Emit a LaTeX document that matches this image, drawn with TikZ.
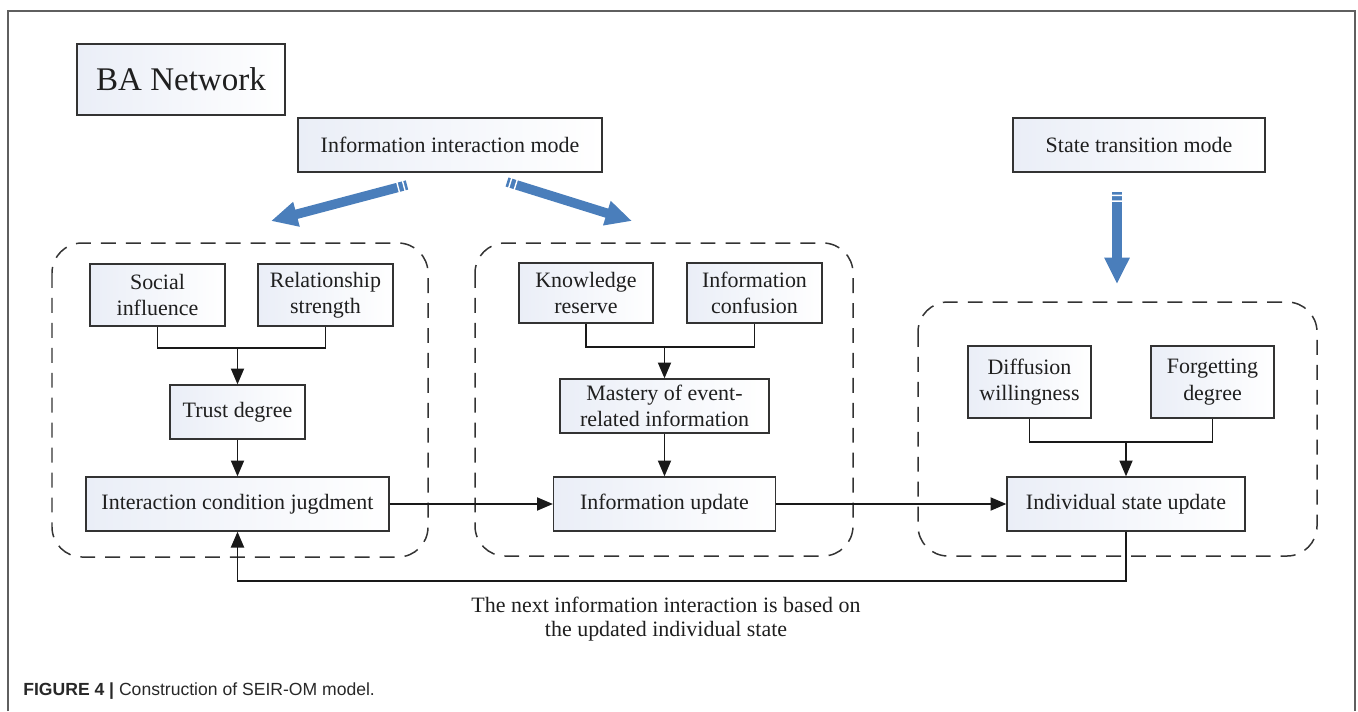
\documentclass[tikz,border=0pt]{standalone}
\usepackage{fontspec}
\setmainfont{Liberation Serif}
\setsansfont{Liberation Sans}
\usetikzlibrary{arrows.meta,calc}
\definecolor{boxfill}{RGB}{234,238,247}
\definecolor{edge}{RGB}{51,51,51}
\definecolor{arrowblue}{RGB}{74,126,187}
\definecolor{framegray}{RGB}{95,95,95}
\definecolor{captxt}{RGB}{40,40,40}
\tikzset{
  box/.style={draw=edge, line width=0.8pt, left color=boxfill, right color=white,
    align=center, inner sep=0pt, font=\fontsize{12.5}{15}\selectfont, text=black!88},
  region/.style={draw=edge, line width=0.85pt, dash pattern=on 8.5pt off 5.7pt, rounded corners=0.6cm},
  conn/.style={draw=black!90, line width=0.75pt},
  arr/.style={conn, -{Triangle[length=9pt,width=7.5pt]}},
  bigarrow/.style={draw=arrowblue, line width=5.4pt, -{Triangle[length=15pt,width=13.5pt]}},
  stripe/.style={draw=white, line width=6.2pt, dash pattern=on 0pt off 1.5pt on 0.8pt off 1.0pt},
}
\begin{document}
\begin{tikzpicture}[x=0.02cm,y=-0.02cm]
\useasboundingbox (0,0) rectangle (1358,711);
% outer frame (open at the bottom)
\draw[framegray, line width=1pt] (8,711) -- (8,11) -- (1355,11) -- (1355,711);

% top boxes
\node[box, minimum width=4.16cm, minimum height=1.42cm, font=\fontsize{18.8}{22}\selectfont] (ba) at (181,79.5) {BA Network};
\node[box, minimum width=6.08cm, minimum height=1.08cm] (iim) at (450,145) {Information interaction mode};
\node[box, minimum width=5.04cm, minimum height=1.08cm] (stm) at (1139,145) {State transition mode};

% blue arrows
\coordinate (t1) at (407,185); \coordinate (h1) at (271,221);
\coordinate (t2) at (507,182); \coordinate (h2) at (632,221);
\coordinate (t3) at (1117,192); \coordinate (h3) at (1117,284);
\draw[bigarrow] (t1) -- (h1);
\draw[bigarrow] (t2) -- (h2);
\draw[bigarrow] (t3) -- (h3);
\draw[stripe] (t1) -- ($(t1)!0.075!(h1)$);
\draw[stripe] (t2) -- ($(t2)!0.08!(h2)$);
\draw[stripe] (t3) -- ($(t3)!0.11!(h3)$);

% dashed regions
\draw[region] (52,243) rectangle (428,557);
\draw[region] (475,243) rectangle (853,556);
\draw[region] (918,302) rectangle (1317,556);

% region 1
\node[box, minimum width=2.7cm, minimum height=1.24cm] (si) at (157.5,295) {Social\\influence};
\node[box, minimum width=2.7cm, minimum height=1.24cm] (rs) at (325.5,295) {Relationship\\strength};
\node[box, minimum width=2.7cm, minimum height=1.08cm] (td) at (237.5,412) {Trust degree};
\node[box, minimum width=6.06cm, minimum height=1.08cm] (icj) at (237.5,504) {Interaction condition jugdment};
\coordinate (m1) at (237.5,348);
\draw[conn] (si.south) |- (m1) -| (rs.south);
\draw[arr] (m1) -- (td.north);
\draw[arr] (td.south) -- (icj.north);

% region 2
\node[box, minimum width=2.68cm, minimum height=1.2cm] (kr) at (586,293) {Knowledge\\reserve};
\node[box, minimum width=2.7cm, minimum height=1.2cm] (ic) at (754.5,293) {Information\\confusion};
\node[box, minimum width=4.18cm, minimum height=1.08cm] (mer) at (664.5,406) {Mastery of event-\\related information};
\node[box, minimum width=4.44cm, minimum height=1.08cm] (iu) at (664.5,504) {Information update};
\coordinate (m2) at (664.5,347);
\draw[conn] (kr.south) |- (m2) -| (ic.south);
\draw[arr] (m2) -- (mer.north);
\draw[arr] (mer.south) -- (iu.north);

% region 3
\node[box, minimum width=2.46cm, minimum height=1.44cm] (dw) at (1029.5,382) {Diffusion\\willingness};
\node[box, minimum width=2.46cm, minimum height=1.44cm] (fd) at (1212.5,382) {Forgetting\\degree};
\node[box, minimum width=4.76cm, minimum height=1.08cm] (isu) at (1126,504) {Individual state update};
\coordinate (m3) at (1126,442);
\draw[conn] (dw.south) |- (m3) -| (fd.south);
\draw[arr] (m3) -- (isu.north);

% flow between regions
\draw[arr] (icj.east) -- (iu.west);
\draw[arr] (iu.east) -- (isu.west);

% feedback
\coordinate (fb) at (1126,581);
\draw[arr] (isu.south) -- (fb) -| (icj.south);
\node[align=center, inner sep=0pt, font=\fontsize{12.5}{13.6}\selectfont, text=black!88] (lbl) at (666,619)
  {The next information interaction is based on\\the updated individual state};

% caption
\node[anchor=west, inner sep=0pt, font=\sffamily\fontsize{10}{12}\selectfont, text=captxt] (cap) at (23,691)
  {\textbf{FIGURE 4 |} Construction of SEIR-OM model.};
\end{tikzpicture}
\end{document}
